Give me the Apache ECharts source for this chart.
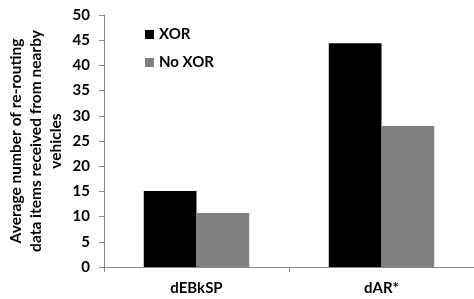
<!DOCTYPE html>
<html>
<head>
<meta charset="utf-8">
<script src="https://cdn.jsdelivr.net/npm/echarts@6/dist/echarts.min.js"></script>
<style>
  html, body { margin: 0; padding: 0; background: #fff; }
  #chart { width: 474px; height: 299px; }
</style>
</head>
<body>
<div id="chart"></div>
<script>
var categories = ['dEBkSP', 'dAR*'];
var xorValues = [15.1, 44.4];
var noXorValues = [10.7, 28.0];
var yTicks = [0, 5, 10, 15, 20, 25, 30, 35, 40, 45, 50];

var font = 'Lato, "Open Sans", sans-serif';

var option = {
    animation: false,
    textStyle: { fontFamily: font },
    grid: {
        left: 104,
        right: 0,
        top: 15,
        bottom: 32,
        containLabel: false,
        outerBoundsMode: 'none'
    },
    legend: {
        orient: 'vertical',
        left: 140,
        top: 22,
        itemWidth: 9,
        itemHeight: 9,
        itemGap: 13,
        icon: 'rect',
        textStyle: { fontFamily: font, fontWeight: 'bold', fontSize: 15, color: '#000' },
        data: ['XOR', 'No XOR']
    },
    xAxis: {
        type: 'category',
        data: categories,
        axisLine: { lineStyle: { color: '#888' } },
        axisTick: { show: true, length: 5, lineStyle: { color: '#888' } },
        axisLabel: { fontFamily: font, fontWeight: 'bold', fontSize: 15, color: '#000', margin: 14 }
    },
    yAxis: {
        type: 'value',
        min: yTicks[0],
        max: yTicks[yTicks.length - 1],
        interval: 5,
        name: 'Average number of re-routing\ndata items received from nearby\nvehicles',
        nameLocation: 'middle',
        nameRotate: 90,
        nameGap: 38,
        nameMoveOverlap: false,
        nameTextStyle: { fontFamily: font, fontWeight: 'bold', fontSize: 15.5, color: '#000', lineHeight: 20, align: 'center' },
        splitLine: { show: false },
        axisLine: { show: true, lineStyle: { color: '#888' } },
        axisTick: { show: true, length: 5, lineStyle: { color: '#888' } },
        axisLabel: { fontFamily: font, fontWeight: 'bold', fontSize: 15, color: '#000', margin: 14 }
    },
    series: [
        {
            name: 'XOR',
            type: 'bar',
            data: xorValues,
            barGap: '0%',
            barCategoryGap: '43%',
            itemStyle: { color: '#000' }
        },
        {
            name: 'No XOR',
            type: 'bar',
            data: noXorValues,
            itemStyle: { color: '#808080' }
        }
    ]
};

var chart = echarts.init(document.getElementById('chart'));
chart.setOption(option);
</script>
</body>
</html>
